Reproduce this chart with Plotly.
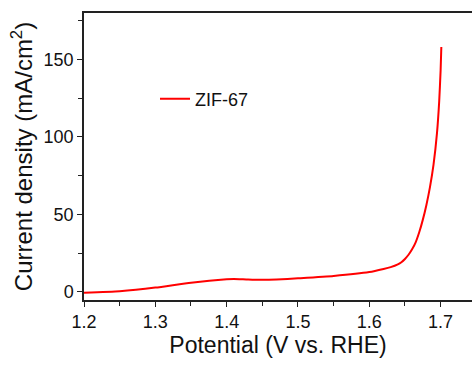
import plotly.graph_objects as go

potential = [1.20, 1.25, 1.30, 1.35, 1.40, 1.41, 1.43, 1.45, 1.47, 1.50, 1.55, 1.60,
             1.62, 1.63, 1.64, 1.645, 1.65, 1.655, 1.66, 1.665, 1.67, 1.675, 1.68,
             1.685, 1.69, 1.695, 1.698, 1.700, 1.701]
current = [-0.5, 0.5, 2.8, 6.0, 8.2, 8.4, 8.0, 7.8, 8.0, 8.8, 10.3, 12.8,
           14.8, 16.0, 17.8, 19.2, 21.3, 24.0, 27.5, 32.0, 38.5, 46.5, 56.0,
           67.5, 82.0, 103.0, 123.0, 143.0, 158.0]
series_name = "ZIF-67"
x_ticks = [1.2, 1.3, 1.4, 1.5, 1.6, 1.7]
y_ticks = [0, 50, 100, 150]

font_family = "Liberation Sans, Arial, sans-serif"

fig = go.Figure()
fig.add_trace(go.Scatter(
    x=potential, y=current, mode="lines", name=series_name,
    line=dict(color="#ff0000", width=2, shape="spline", smoothing=0.5),
))

axis_common = dict(
    showgrid=False, zeroline=False, showline=True, linecolor="#222222", linewidth=1.5,
    ticks="outside", ticklen=5, tickwidth=1.2, tickcolor="#222222", automargin=False,
    tickfont=dict(size=18, color="#111111", family=font_family),
)

fig.update_layout(
    width=472, height=365,
    margin=dict(l=84, r=0, t=13, b=65),
    paper_bgcolor="white", plot_bgcolor="white",
    font=dict(family=font_family, color="#111111"),
    showlegend=True,
    legend=dict(x=0.183, y=0.70, xanchor="left", yanchor="middle",
                bgcolor="rgba(0,0,0,0)", font=dict(size=18, family=font_family)),
    xaxis=dict(
        range=[1.2, 1.744], tickvals=x_ticks, ticktext=[f"{v:.1f}" for v in x_ticks],
        mirror=True,
        minor=dict(ticks="outside", ticklen=4, tickwidth=1.2, tickcolor="#222222", dtick=0.05),
        title=dict(text="Potential (V vs. RHE)", font=dict(size=23, family=font_family), standoff=6),
        **axis_common,
    ),
    yaxis=dict(
        range=[-5.2, 180], tickvals=y_ticks,
        minor=dict(ticks="outside", ticklen=4, tickwidth=1.2, tickcolor="#222222", dtick=25),
        title=dict(text="Current density (mA/cm<sup>2</sup>)", font=dict(size=24, family=font_family), standoff=4),
        **axis_common,
    ),
)

fig.write_html("out.html",
               config={"displayModeBar": False},
               post_script="document.body.style.margin='0px';document.body.style.overflow='hidden';")
